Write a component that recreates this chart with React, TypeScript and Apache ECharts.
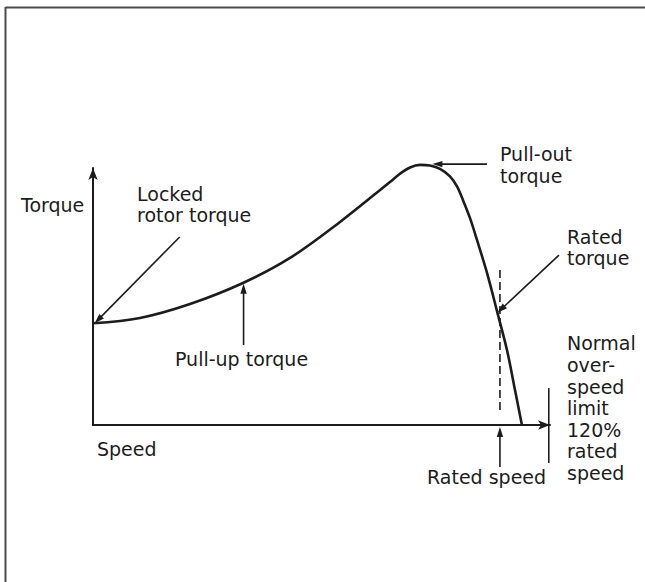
import React, { useEffect, useRef } from "react";
import * as echarts from "echarts";

// Torque-speed curve (speed in % of rated speed, torque in % of rated torque)
const speed = [0, 11.55, 23.84, 36.86, 48.41, 60.7, 72.98, 75.44, 77.9, 80.35, 82.81, 85.27, 87.72, 89.45, 91.0, 92.67, 94.36, 96.82, 99.52, 101.73, 103.7, 105.4];
const torque = [91.0, 95.8, 108.3, 127.1, 149.5, 181.7, 217.5, 224.9, 230.5, 232.8, 232.2, 229.2, 222.5, 213.5, 200.5, 184.9, 165.6, 136.1, 98.5, 67.1, 31.3, 0];

const ratedSpeed = 100;
const overspeedLimit = 112;
const speedMax = 112.3;
const torqueMax = 230;

// Annotation pointers: [fromSpeed, fromTorque, toSpeed, toTorque]
const lockedRotorPointer = [21.3, 168.3, 0.4, 91];
const pullUpPointer = [37, 71.6, 37, 126.5];
const pullOutPointer = [96.8, 233.5, 83.4, 233.5];
const ratedTorquePointer = [114.5, 152, 99.4, 100.5];
const ratedSpeedPointer = [ratedSpeed, -37.6, ratedSpeed, -1.8];
const ratedSpeedDashed = [ratedSpeed, 138.8, ratedSpeed, 11.6];
const limitMark = [overspeedLimit, 33, overspeedLimit, -34];

const labels = {
  torqueAxis: "Torque",
  speedAxis: "Speed",
  lockedRotor: "Locked\nrotor torque",
  pullUp: "Pull-up torque",
  pullOut: "Pull-out\ntorque",
  ratedTorque: "Rated\ntorque",
  overspeed: "Normal\nover-\nspeed\nlimit\n120%\nrated\nspeed",
  ratedSpeed: "Rated speed",
};

const INK = "#1c1c1c";
const FONT = "DejaVu Sans";

function txt(text: string, x: number, y: number) {
  return {
    type: "text",
    x,
    y,
    silent: true,
    style: {
      text,
      font: `19px "${FONT}"`,
      fill: INK,
      verticalAlign: "top",
      align: "left",
      lineHeight: 21.6,
    },
  };
}

export default function App() {
  const ref = useRef<HTMLDivElement>(null);
  useEffect(() => {
    if (!ref.current) return;
    const chart = echarts.init(ref.current, undefined, { renderer: "svg" });
    const axisLine = {
      show: true,
      symbol: ["none", "arrow"],
      symbolSize: [7, 12],
      lineStyle: { color: INK, width: 2 },
    };
    chart.setOption({
      animation: false,
      backgroundColor: "#ffffff",
      grid: { left: 93, right: 95, top: 168, bottom: 157 },
      xAxis: {
        type: "value",
        min: 0,
        max: speedMax,
        axisLine,
        axisTick: { show: false },
        axisLabel: { show: false },
        splitLine: { show: false },
      },
      yAxis: {
        type: "value",
        min: 0,
        max: torqueMax,
        axisLine,
        axisTick: { show: false },
        axisLabel: { show: false },
        splitLine: { show: false },
      },
      series: [
        {
          type: "line",
          data: speed.map((s, i) => [s, torque[i]]),
          smooth: 0.35,
          showSymbol: false,
          clip: false,
          silent: true,
          lineStyle: { color: INK, width: 2.6 },
        },
      ],
    });

    const px = (s: number, t: number) =>
      chart.convertToPixel({ gridIndex: 0 }, [s, t]) as number[];

    const pointer = (p: number[], arrow: boolean, dashed = false) => {
      const a = px(p[0], p[1]);
      const b = px(p[2], p[3]);
      const els: any[] = [];
      const dx = b[0] - a[0];
      const dy = b[1] - a[1];
      const len = Math.hypot(dx, dy) || 1;
      const ux = dx / len;
      const uy = dy / len;
      const headL = 10;
      const headW = 3.2;
      const end = arrow ? [b[0] - ux * (headL - 2), b[1] - uy * (headL - 2)] : b;
      els.push({
        type: "line",
        silent: true,
        shape: { x1: a[0], y1: a[1], x2: end[0], y2: end[1] },
        style: {
          stroke: INK,
          lineWidth: 1.6,
          lineDash: dashed ? [8, 4] : null,
        },
      });
      if (arrow) {
        const bx = b[0] - ux * headL;
        const by = b[1] - uy * headL;
        els.push({
          type: "polygon",
          silent: true,
          shape: {
            points: [
              [b[0], b[1]],
              [bx - uy * headW, by + ux * headW],
              [bx + uy * headW, by - ux * headW],
            ],
          },
          style: { fill: INK },
        });
      }
      return els;
    };

    chart.setOption({
      graphic: [
        {
          type: "line",
          shape: { x1: 5.5, y1: 7.5, x2: 645, y2: 7.5 },
          style: { stroke: "#4a4a4a", lineWidth: 2 },
        },
        {
          type: "line",
          shape: { x1: 5.5, y1: 7, x2: 5.5, y2: 582 },
          style: { stroke: "#4a4a4a", lineWidth: 2 },
        },
        ...pointer(lockedRotorPointer, true),
        ...pointer(pullUpPointer, true),
        ...pointer(pullOutPointer, true),
        ...pointer(ratedTorquePointer, true),
        ...pointer(ratedSpeedPointer, true),
        ...pointer(ratedSpeedDashed, false, true),
        ...pointer(limitMark, false),
        txt(labels.torqueAxis, 21, 194.5),
        txt(labels.lockedRotor, 137, 183),
        txt(labels.pullUp, 175, 348),
        txt(labels.speedAxis, 97, 438),
        txt(labels.pullOut, 500, 143.5),
        txt(labels.ratedTorque, 567, 226),
        txt(labels.overspeed, 567, 332.5),
        txt(labels.ratedSpeed, 427, 466),
      ],
    });
    return () => chart.dispose();
  }, []);
  return (
    <div
      ref={ref}
      style={{ position: "absolute", left: 0, top: 0, width: 645, height: 582, background: "#fff" }}
    />
  );
}
